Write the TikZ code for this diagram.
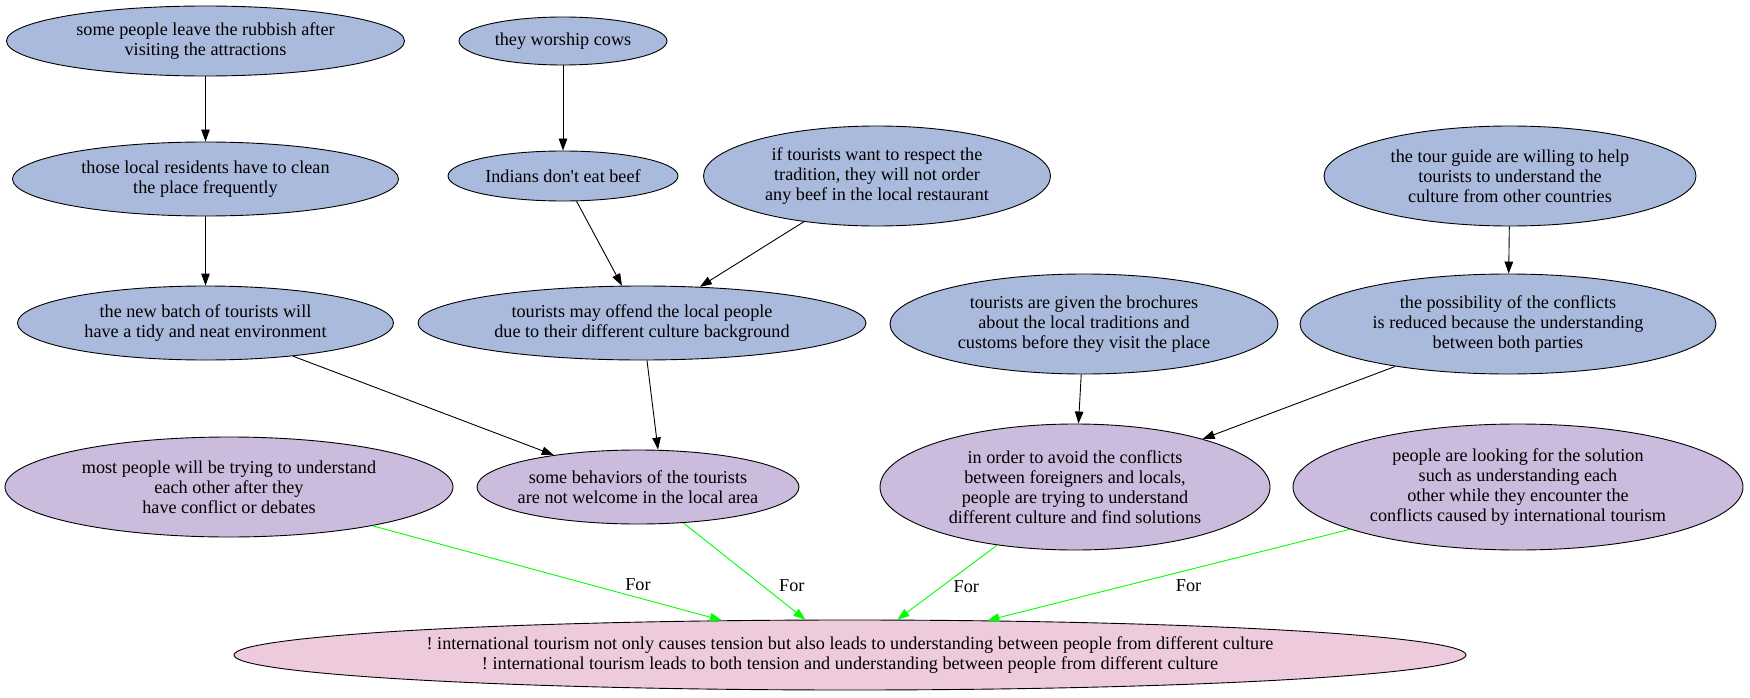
\documentclass[tikz,border=0pt]{standalone}
\usepackage{fontspec}
\setmainfont{Liberation Serif}
\usepackage{tikz}
\usetikzlibrary{shapes,arrows.meta}
\definecolor{premiseBlue}{RGB}{170,186,221}
\definecolor{reasonLilac}{RGB}{203,187,220}
\definecolor{thesisPink}{RGB}{238,202,221}
\definecolor{forGreen}{RGB}{0,255,0}

\begin{document}
\begin{tikzpicture}[
            x=1pt, y=-1pt,
            bubble/.style={ellipse, draw, line width=0.9pt, inner sep=0pt, align=center,
                           font=\fontsize{18.2}{20}\selectfont\frenchspacing},
            premise/.style={bubble, fill=premiseBlue},
            reason/.style={bubble, fill=reasonLilac},
            thesis/.style={bubble, fill=thesisPink},
            arrow/.style={-{Triangle[length=12pt,width=8.5pt]}, line width=0.9pt},
            forarrow/.style={arrow, draw=forGreen, -{Triangle[length=12pt,width=8.5pt,fill=forGreen]}},
            forlabel/.style={inner sep=1pt, font=\fontsize{18.2}{20}\selectfont}
        ]
            \useasboundingbox (0,0) rectangle (1750,698);
            % top rows
            \node[premise, minimum width=398pt, minimum height=70pt] (rubbish) at (205.5,41) {some people leave the rubbish after\\visiting the attractions};
            \node[premise, minimum width=208pt, minimum height=48pt] (cows) at (563,41) {they worship cows};
            \node[premise, minimum width=386pt, minimum height=74pt] (residents) at (205.5,179) {those local residents have to clean\\the place frequently};
            \node[premise, minimum width=230pt, minimum height=50pt] (indians) at (563,176) {Indians don\textquotesingle t eat beef};
            \node[premise, minimum width=347pt, minimum height=100pt] (respect) at (877,176) {if tourists want to respect the\\tradition, they will not order\\any beef in the local restaurant};
            \node[premise, minimum width=372pt, minimum height=100pt] (guide) at (1510,176) {the tour guide are willing to help\\tourists to understand the\\culture from other countries};
            \node[premise, minimum width=376pt, minimum height=74pt] (batch) at (205.5,323) {the new batch of tourists will\\have a tidy and neat environment};
            \node[premise, minimum width=448pt, minimum height=74pt] (offend) at (642,323) {tourists may offend the local people\\due to their different culture background};
            \node[premise, minimum width=388pt, minimum height=100pt] (brochures) at (1084,324) {tourists are given the brochures\\about the local traditions and\\customs before they visit the place};
            \node[premise, minimum width=416pt, minimum height=100pt] (possib) at (1508,324) {the possibility of the conflicts\\is reduced because the understanding\\between both parties};
            % reasons
            \node[reason, minimum width=448pt, minimum height=100pt] (most) at (229,487) {most people will be trying to understand\\each other after they\\have conflict or debates};
            \node[reason, inner xsep=-7pt, minimum width=322pt, minimum height=74pt] (behav) at (638,487) {some behaviors of the tourists\\are not welcome in the local area};
            \node[reason, minimum width=390pt, minimum height=126pt] (avoid) at (1075,487) {in order to avoid the conflicts\\between foreigners and locals,\\people are trying to understand\\different culture and find solutions};
            \node[reason, minimum width=450pt, minimum height=126pt] (solution) at (1518,487) {people are looking for the solution\\such as understanding each\\other while they encounter the\\conflicts caused by international tourism};
            % thesis
            \node[thesis, minimum width=1232pt, minimum height=70pt] (main) at (850,655) {! international tourism not only causes tension but also leads to understanding between people from different culture\\! international tourism leads to both tension and understanding between people from different culture};

            \draw[arrow] (rubbish) -- (residents);
            \draw[arrow] (residents) -- (batch);
            \draw[arrow] (cows) -- (indians);
            \draw[arrow] (indians) -- (offend);
            \draw[arrow] (respect) -- (offend);
            \draw[arrow] (guide) -- (possib);
            \draw[arrow] (batch) -- (behav);
            \draw[arrow] ([xshift=5pt]offend.south) -- ([xshift=20pt]behav.north);
            \draw[arrow] (brochures) -- (avoid);
            \draw[arrow] (possib) -- (avoid);

            \draw[forarrow] (most) -- node[forlabel, pos=0.76, yshift=13pt] {For} (main);
            \draw[forarrow] (behav) -- node[forlabel, pos=0.65, anchor=west, xshift=15pt] {For} (main);
            \draw[forarrow] (avoid) -- node[forlabel, pos=0.55, anchor=west, xshift=10pt] {For} (main);
            \draw[forarrow] (solution) -- node[forlabel, pos=0.445, yshift=-16pt] {For} (main);
        \end{tikzpicture}
\end{document}
